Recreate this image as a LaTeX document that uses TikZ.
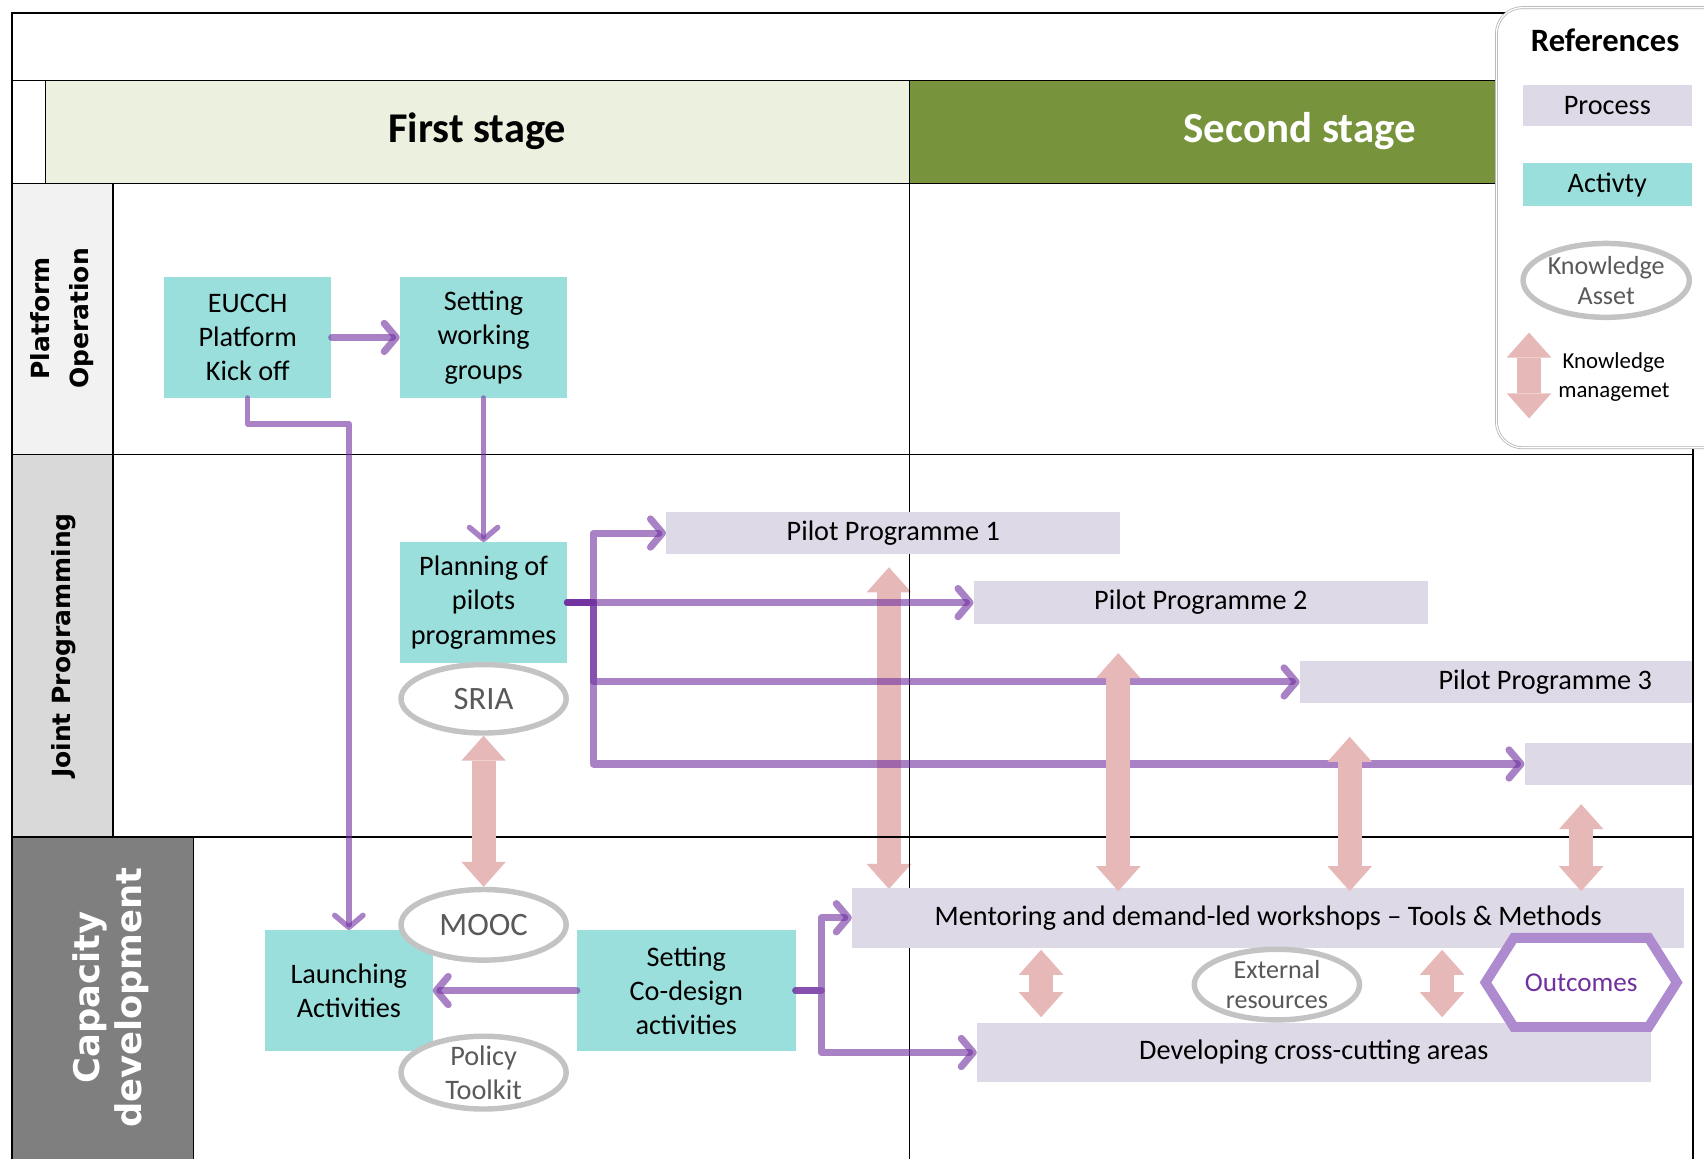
\documentclass[tikz,border=0pt]{standalone}
\usepackage{fontspec}
\setmainfont{Carlito}
\newfontfamily\lanefont{DejaVu Sans}
\usetikzlibrary{arrows.meta,shapes.geometric}

\definecolor{activity}{HTML}{9ADFDB}
\definecolor{process}{HTML}{DDD9E7}
\definecolor{stageone}{HTML}{EBF1DE}
\definecolor{stagetwo}{HTML}{77933C}
\definecolor{laneA}{HTML}{F2F2F2}
\definecolor{laneB}{HTML}{D9D9D9}
\definecolor{laneC}{HTML}{7F7F7F}
\definecolor{kmpink}{HTML}{E6B9B8}
\definecolor{flow}{HTML}{7030A0}
\definecolor{hexline}{HTML}{AE8BCF}
\definecolor{assetline}{HTML}{C3C3C3}
\definecolor{assettext}{HTML}{595959}

\begin{document}
\begin{tikzpicture}[x=1pt,y=-1pt,
  grid/.style={line width=1.4pt, draw=black},
  act/.style={fill=activity, inner sep=0pt, minimum width=154pt, minimum height=111pt,
    align=center, font=\fontsize{26}{31.5}\selectfont},
  proc/.style={fill=process, inner sep=0pt, minimum height=39pt,
    font=\fontsize{26}{31.5}\selectfont},
  asset/.style={ellipse, draw=assetline, line width=5pt, fill=white, inner sep=0pt,
    minimum width=152pt, minimum height=64pt},
  assettxt/.style={text=assettext, align=center, inner sep=0pt},
  flowline/.style={draw=flow, draw opacity=0.6, line width=6.5pt, line cap=round,
    line join=round, -{Straight Barb[length=11pt,width=26pt,round]}},
  kmarrow/.style={draw=kmpink, line width=22pt,
    {Triangle[length=23pt,width=41pt,line width=0pt]}-{Triangle[length=23pt,width=41pt,line width=0pt]}},
  lanelab/.style={font=\lanefont\bfseries\fontsize{23}{36}\selectfont, align=center, inner sep=0pt},
  legendframe/.style={draw=gray!60, double=white, double distance=1.2pt, line width=0.7pt,
    fill=white, rounded corners=24pt}
]
\useasboundingbox (0,0) rectangle (1568,1066);
\clip (0,0) rectangle (1568,1066);
\fill[white] (0,0) rectangle (1568,1066);

% header band and lane title cells
\fill[stageone] (42,74) rectangle (837,169);
\fill[stagetwo] (837,74) rectangle (1558,169);
\fill[laneA] (11,169) rectangle (104,418);
\fill[laneB] (11,418) rectangle (104,770);
\fill[laneC] (11,770) rectangle (178,1080);

% knowledge link behind the grid
\coordinate (k1a) at (818,522);
\coordinate (k1b) at (818,818);
\draw[kmarrow] (k1a) -- (k1b);

% grid
\draw[grid] (11,1080) -- (11,12) -- (1558,12) -- (1558,1080);
\draw[grid] (11,74) -- (1558,74);
\draw[grid] (11,169) -- (1558,169);
\draw[grid] (42,74) -- (42,169);
\draw[grid] (11,418) -- (1558,418);
\draw[grid] (11,770) -- (1558,770);
\draw[grid] (104,169) -- (104,770);
\draw[grid] (178,770) -- (178,1080);
\draw[grid] (837,74) -- (837,1080);

% stage titles
\node[font=\bfseries\fontsize{39}{46}\selectfont] (stage1) at (439,121) {First stage};
\node[font=\bfseries\fontsize{39.5}{46}\selectfont, text=white] (stage2) at (1196,121) {Second stage};

% lane titles
\node[lanelab, rotate=90] (lanepo) at (57,293) {Platform\\Operation};
\node[lanelab, rotate=90] (lanejp) at (59,594) {Joint Programming};
\node[lanelab, rotate=90, text=white, font=\lanefont\bfseries\fontsize{32.5}{38}\selectfont] (lanecd) at (102,918) {Capacity\\development};

% activities
\node[act] (eucch) at (228,310.5) {EUCCH\\Platform\\Kick off};
\node[act] (setwg) at (445,310.5) {Setting\\working\\groups};
\node[act] (plan) at (445,554.5) {Planning of\\pilots\\programmes};
\node[act] (launch) at (321,911.5) {Launching\\Activities};
\node[act, minimum width=201pt] (codesign) at (631.5,911.5) {Setting\\Co-design\\activities};

% processes
\node[proc, minimum width=418pt] (pp1) at (822,490.5) {Pilot Programme 1};
\node[proc, minimum width=418pt] (pp2) at (1105,554.5) {Pilot Programme 2};
\node[proc, minimum width=361pt] (pp3) at (1376.5,627.5) {};
\node[anchor=east, inner sep=0pt, font=\fontsize{26}{31.5}\selectfont] (pp3txt) at ([xshift=-37pt]pp3.east) {Pilot Programme 3};
\node[proc, minimum width=154pt, minimum height=38pt] (pp4) at (1480,703) {};
\node[proc, minimum width=766pt, minimum height=55pt] (mentor) at (1167,844.5) {Mentoring and demand-led workshops -- Tools \& Methods};
\node[proc, minimum width=620pt, minimum height=55pt] (develop) at (1209,968.5) {Developing cross-cutting areas};

% knowledge assets
\node[asset, minimum height=63pt] (sria) at (445,643) {};
\node[assettxt, font=\fontsize{30}{34}\selectfont] (sriatxt) at (sria) {SRIA};
\node[asset, minimum height=65pt] (mooc) at (445,851) {};
\node[assettxt, font=\fontsize{30}{34}\selectfont] (mooctxt) at (mooc) {MOOC};
\node[asset, minimum height=67pt] (policy) at (445,987) {};
\node[assettxt, font=\fontsize{26}{31}\selectfont] (policytxt) at (policy) {Policy\\Toolkit};
\node[asset, minimum height=65pt] (extres) at (1175,906) {};
\node[assettxt, font=\fontsize{24}{28}\selectfont] (extrestxt) at (extres) {External\\resources};

% process flow
\draw[flowline] (eucch.east) -- (setwg.west);
\draw[flowline, line width=5pt] (eucch.south) -- ++(0,24) -| (launch.north);
\draw[flowline, line width=5pt] (setwg.south) -- (plan.north);
\coordinate (pbus) at (546,554.5);
\draw[flowline] (plan.east) -- (pbus) |- (pp1.west);
\draw[flowline] (plan.east) -- (pp2.west);
\draw[flowline] (plan.east) -- (pbus) |- (pp3.west);
\draw[flowline] (plan.east) -- (pbus) |- (pp4.west);
\coordinate (cbus) at (756,911.5);
\draw[flowline] (codesign.west) -- (launch.east);
\draw[flowline] (codesign.east) -- (cbus) |- (mentor.west);
\draw[flowline] (codesign.east) -- (cbus) |- (develop.west);

% knowledge management links
\draw[kmarrow] (sria.south) -- (mooc.north);
\coordinate (k2a) at (1029,601);
\coordinate (k2b) at (1029,820);
\draw[kmarrow] (k2a) -- (k2b);
\coordinate (k3a) at (1242,678);
\coordinate (k3b) at (1242,820);
\draw[kmarrow] (k3a) -- (k3b);
\coordinate (k4a) at (1455,740);
\coordinate (k4b) at (1455,820);
\draw[kmarrow] (k4a) -- (k4b);
\coordinate (k5a) at (958,874);
\coordinate (k5b) at (958,936);
\draw[kmarrow] (k5a) -- (k5b);
\coordinate (k6a) at (1327,874);
\coordinate (k6b) at (1327,936);
\draw[kmarrow] (k6a) -- (k6b);

% outcomes
\coordinate (hexc) at (1455,904);
\filldraw[draw=hexline, fill=white, line width=9pt, line join=miter]
  (hexc) +(-88,0) -- +(-62,-41) -- +(62,-41) -- +(88,0) -- +(62,41) -- +(-62,41) -- cycle;
\node[text=flow, inner sep=0pt, font=\fontsize{25}{30}\selectfont] (outc) at (hexc) {Outcomes};

% legend
\draw[legendframe] (1377,7) rectangle (1640,412);
\node[font=\bfseries\fontsize{30}{36}\selectfont] (reftitle) at (1477,37) {References};
\node[proc, minimum width=156pt, minimum height=38pt] (lgproc) at (1479,97) {Process};
\node[act, minimum width=156pt, minimum height=40pt] (lgact) at (1479,170) {Activty};
\node[asset, minimum width=153pt, minimum height=68pt] (lgasset) at (1478,258) {};
\node[assettxt, font=\fontsize{24}{28}\selectfont] (lgassettxt) at (lgasset) {Knowledge\\Asset};
\coordinate (lgka) at (1407,306);
\coordinate (lgkb) at (1407,385);
\draw[kmarrow] (lgka) -- (lgkb);
\node[font=\fontsize{21}{27}\selectfont, align=center, inner sep=0pt] (lgkm) at (1485,347) {Knowledge\\managemet};
\end{tikzpicture}
\end{document}
